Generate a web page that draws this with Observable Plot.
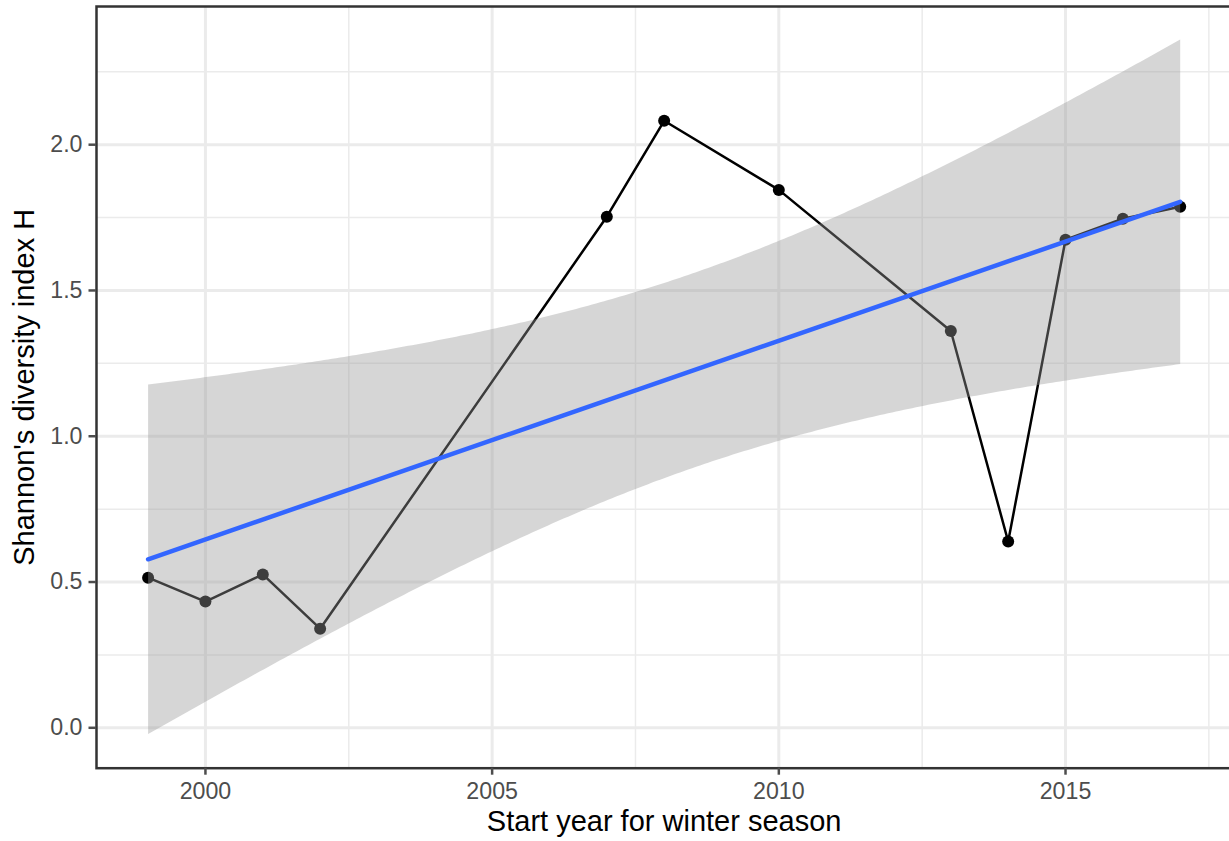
<!DOCTYPE html>
<html><head><meta charset="utf-8">
<script src="https://cdn.jsdelivr.net/npm/d3@7"></script>
<script src="https://cdn.jsdelivr.net/npm/@observablehq/plot@0.6"></script>
<style>body{margin:0;background:#fff;overflow:hidden;}</style>
</head><body><div id="chart"></div>
<script>
// Data
const years = [1999, 2000, 2001, 2002, 2007, 2008, 2010, 2013, 2014, 2015, 2016, 2017];
const shannonH = [0.515, 0.433, 0.526, 0.340, 1.753, 2.082, 1.845, 1.361, 0.639, 1.674, 1.746, 1.787];
const xTicks = [2000, 2005, 2010, 2015];
const xMinor = [2002.5, 2007.5, 2012.5, 2017.5];
const yTicks = [0, 0.5, 1, 1.5, 2];
const yMinor = [0.25, 0.75, 1.25, 1.75, 2.25];
const xLabel = "Start year for winter season";
const yLabel = "Shannon's diversity index H";

const data = years.map((year, i) => ({year, H: shannonH[i]}));

const font = "'Liberation Sans', Arial, Helvetica, sans-serif";
const plot = Plot.plot({
  width: 1229,
  height: 841,
  marginLeft: 96,
  marginRight: -2.3,
  marginTop: 6,
  marginBottom: 73.3,
  style: {fontFamily: font, background: "#fff"},
  x: {domain: [1998.1, 2017.9]},
  y: {domain: [-0.1386, 2.474]},
  marks: [
    Plot.gridX(xMinor, {stroke: "#EBEBEB", strokeOpacity: 1, strokeWidth: 1.5}),
    Plot.gridY(yMinor, {stroke: "#EBEBEB", strokeOpacity: 1, strokeWidth: 1.5}),
    Plot.gridX(xTicks, {stroke: "#EBEBEB", strokeOpacity: 1, strokeWidth: 3}),
    Plot.gridY(yTicks, {stroke: "#EBEBEB", strokeOpacity: 1, strokeWidth: 3}),
    Plot.line(data, {x: "year", y: "H", stroke: "black", strokeWidth: 2.5}),
    Plot.dot(data, {x: "year", y: "H", r: 6, fill: "black", stroke: null}),
    Plot.linearRegressionY(data, {x: "year", y: "H", stroke: "#3366FF", strokeWidth: 4.5, fill: "#999999", fillOpacity: 0.4, ci: 0.95}),
    Plot.frame({stroke: "#333333", strokeWidth: 2.5}),
    Plot.axisX(xTicks, {tickSize: 7, tickPadding: 7, tickFormat: d => String(d), fontSize: 23.2, color: "#4D4D4D", strokeWidth: 2.5, label: null}),
    Plot.axisY(yTicks, {tickSize: 7.5, tickPadding: 6.5, tickFormat: d3.format(".1f"), fontSize: 23.2, color: "#4D4D4D", strokeWidth: 2.5, label: null}),
    Plot.text([xLabel], {frameAnchor: "bottom", dy: 53.7, lineAnchor: "middle", textAnchor: "middle", text: d => d, fontSize: 29, fill: "black"}),
    Plot.text([yLabel], {frameAnchor: "left", dx: -72, rotate: -90, lineAnchor: "middle", textAnchor: "middle", text: d => d, fontSize: 29, fill: "black"})
  ]
});
document.getElementById("chart").appendChild(plot);
</script>
</body></html>
